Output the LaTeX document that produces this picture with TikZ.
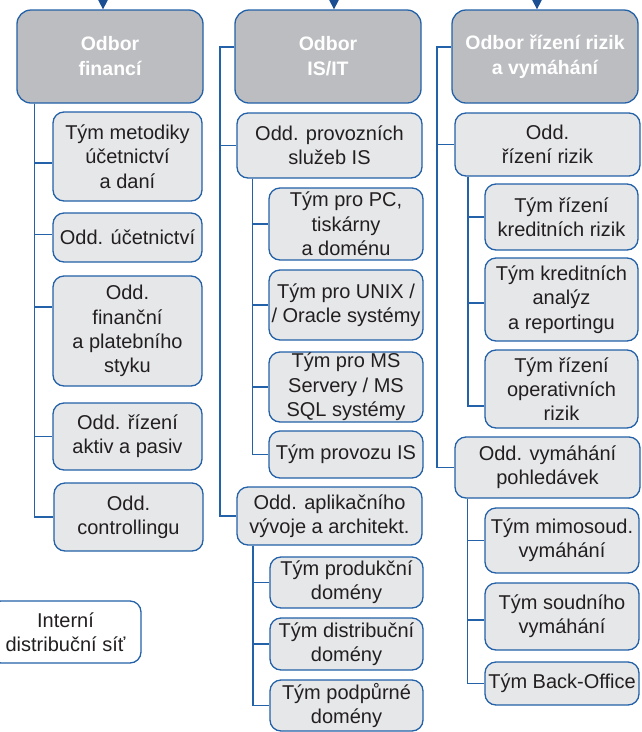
\documentclass[tikz,border=0pt]{standalone}
\usepackage{fontspec}
\setmainfont{Liberation Sans}
\usetikzlibrary{arrows.meta}
\definecolor{lineblue}{HTML}{2361A8}
\definecolor{arrowblue}{HTML}{1B4F93}
\definecolor{headfill}{HTML}{BCBDC0}
\definecolor{boxfill}{HTML}{E6E7E9}
\definecolor{txt}{HTML}{231F20}
\tikzset{
  conn/.style={draw=lineblue, line width=1.3pt},
  head/.style={draw=lineblue, line width=1.3pt, fill=headfill, rounded corners=14pt, text=white,
    font=\bfseries\fontsize{19.5}{25}\selectfont, align=center, inner sep=0pt},
  unit/.style={draw=lineblue, line width=1.3pt, fill=boxfill, rounded corners=11pt, text=txt,
    font=\fontsize{20}{24.3}\selectfont, align=center, inner sep=0pt},
  topin/.style={draw=arrowblue, line width=1.3pt, -{Triangle[width=10pt,length=10pt]}}
}
\newcommand\ubox[6]{\node[#1, minimum width=#4pt, minimum height=#5pt] (#2) at (#3) {#6};}
\begin{document}
\begin{tikzpicture}[x=1pt,y=-1pt]
\useasboundingbox (0,0) rectangle (642,732);
% column 1
\ubox{head}{F0}{110,56.5}{186}{93}{Odbor\\financí}
\ubox{unit}{F1}{127.5,156.5}{149}{89}{Tým metodiky\\účetnictví\\a daní}
\ubox{unit}{F2}{127.5,237.5}{149}{49}{Odd. účetnictví}
\ubox{unit}{F3}{127.5,331}{149}{110}{Odd.\\finanční\\a platebního\\styku}
\ubox{unit}{F4}{127.5,436.5}{149}{67}{Odd. řízení\\aktiv a pasiv}
\ubox{unit}{F5}{128.5,517}{149}{68}{Odd.\\controllingu}
\node[unit, fill=white, minimum width=151pt, minimum height=62pt] (N) at (65.5,632) {Interní\\distribuční síť};
% column 2
\ubox{head}{I0}{328,56.5}{186}{93}{Odbor\\IS/IT}
\ubox{unit}{I1}{329.5,145.5}{185}{65}{Odd. provozních\\služeb IS}
\ubox{unit}{I2}{346,224}{154}{72}{Tým pro PC,\\tiskárny\\a doménu}
\ubox{unit}{I3}{346,305}{154}{70}{Tým pro UNIX /\\/ Oracle systémy}
\ubox{unit}{I4}{346,387}{154}{70}{Tým pro MS\\Servery / MS\\SQL systémy}
\ubox{unit}{I5}{346,454.5}{154}{47}{Tým provozu IS}
\ubox{unit}{I6}{329.5,516}{185}{58}{Odd. aplikačního\\vývoje a architekt.}
\ubox{unit}{I7}{346.5,582.5}{153}{51}{Tým produkční\\domény}
\ubox{unit}{I8}{346.5,644}{153}{52}{Tým distribuční\\domény}
\ubox{unit}{I9}{346.5,705.5}{153}{51}{Tým podpůrné\\domény}
% column 3
\ubox{head}{R0}{545,56.5}{186}{93}{Odbor řízení rizik\\a vymáhání}
\ubox{unit}{R1}{547.5,144.5}{185}{63}{Odd.\\řízení rizik}
\ubox{unit}{R2}{561.5,217}{153}{66}{Tým řízení\\kreditních rizik}
\ubox{unit}{R3}{561.5,299.5}{153}{83}{Tým kreditních\\analýz\\a reportingu}
\ubox{unit}{R4}{561.5,389}{153}{78}{Tým řízení\\operativních\\rizik}
\ubox{unit}{R5}{547.5,467.5}{185}{61}{Odd. vymáhání\\pohledávek}
\ubox{unit}{R6}{562,540.5}{154}{65}{Tým mimosoud.\\vymáhání}
\ubox{unit}{R7}{562,616.5}{154}{67}{Tým soudního\\vymáhání}
\ubox{unit}{R8}{562,683.5}{154}{43}{Tým Back-Office}
% spine coordinates
\coordinate (s1) at (34.5,0);
\coordinate (s2) at (220,0);
\coordinate (s2a) at (252.5,0);
\coordinate (s2b) at (253,0);
\coordinate (s3) at (437,0);
\coordinate (s3a) at (468,0);
\coordinate (s3b) at (467.5,0);
\coordinate (t1) at (103,-8);
\coordinate (t2) at (334,-8);
\coordinate (t3) at (537,-8);
% top arrows
\draw[topin] (t1) -- (t1 |- F0.north);
\draw[topin] (t2) -- (t2 |- I0.north);
\draw[topin] (t3) -- (t3 |- R0.north);
% column 1 connectors
\draw[conn] (F0.south -| s1) |- ([yshift=-6.5pt]F1.west);
\draw[conn] (F0.south -| s1) |- ([yshift=3pt]F2.west);
\draw[conn] (F0.south -| s1) |- ([yshift=24pt]F3.west);
\draw[conn] (F0.south -| s1) |- (F4.west);
\draw[conn] (F0.south -| s1) |- (F5.west);
% column 2 connectors
\draw[conn] ([yshift=9.5pt]I0.west) -| (I1.west -| s2) -- (I1.west);
\draw[conn] ([yshift=9.5pt]I0.west) -| (I6.west -| s2) -- (I6.west);
\draw[conn] (I1.south -| s2a) |- (I2.west);
\draw[conn] (I1.south -| s2a) |- (I3.west);
\draw[conn] (I1.south -| s2a) |- (I4.west);
\draw[conn] (I1.south -| s2a) |- (I5.west);
\draw[conn] (I6.south -| s2b) |- (I7.west);
\draw[conn] (I6.south -| s2b) |- (I8.west);
\draw[conn] (I6.south -| s2b) |- (I9.west);
% column 3 connectors
\draw[conn] ([yshift=9.5pt]R0.west) -| (R1.west -| s3) -- (R1.west);
\draw[conn] ([yshift=9.5pt]R0.west) -| (R5.west -| s3) -- (R5.west);
\draw[conn] (R1.south -| s3a) |- (R2.west);
\draw[conn] (R1.south -| s3a) |- ([yshift=-3.5pt]R3.west);
\draw[conn] (R1.south -| s3a) |- ([yshift=-17pt]R4.west);
\draw[conn] (R5.south -| s3b) |- (R6.west);
\draw[conn] (R5.south -| s3b) |- ([yshift=-3.5pt]R7.west);
\draw[conn] (R5.south -| s3b) |- (R8.west);
\end{tikzpicture}
\end{document}
